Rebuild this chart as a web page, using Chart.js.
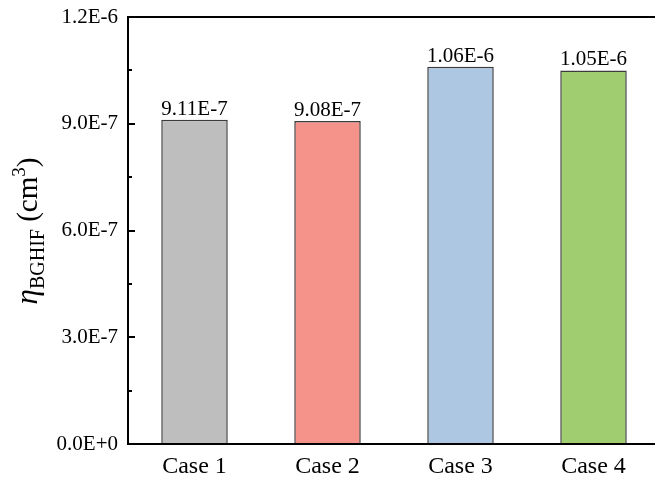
<!DOCTYPE html>
<html>
<head>
<meta charset="utf-8">
<script src="https://cdn.jsdelivr.net/npm/chart.js@4/dist/chart.umd.min.js"></script>
<style>
  html, body { margin: 0; padding: 0; background: #fff; overflow: hidden; }
  #wrap { width: 662px; height: 481px; position: relative; }
</style>
</head>
<body>
<div id="wrap"><canvas id="barChart"></canvas></div>
<script>
const categories = ['Case 1', 'Case 2', 'Case 3', 'Case 4'];
const etaValues = [9.11e-7, 9.08e-7, 1.06e-6, 1.05e-6];
const valueLabels = ['9.11E-7', '9.08E-7', '1.06E-6', '1.05E-6'];
const yTicks = [0, 3e-7, 6e-7, 9e-7, 1.2e-6];
const barColors = ['#bebebe', '#f5928a', '#adc6e2', '#a0cd6f'];

const serif = '"Liberation Serif", "Times New Roman", serif';

function fmtSci(v) {
    return v.toExponential(1).toUpperCase();
}

// frame, inward ticks, value labels and the y title
const decorPlugin = {
    id: 'decor',
    afterDatasetsDraw(chart) {
        const ctx = chart.ctx;
        const area = chart.chartArea;
        const y = chart.scales.y;

        ctx.save();
        // value labels above bars
        ctx.fillStyle = '#000';
        ctx.font = '21px ' + serif;
        ctx.textAlign = 'center';
        ctx.textBaseline = 'alphabetic';
        chart.getDatasetMeta(0).data.forEach((bar, i) => {
            ctx.fillText(valueLabels[i], bar.x, bar.y - 5);
        });

        // inward ticks on the y axis
        ctx.strokeStyle = '#000';
        ctx.lineWidth = 2;
        for (let i = 0; i < yTicks.length; i++) {
            const py = Math.round(y.getPixelForValue(yTicks[i]));
            ctx.beginPath();
            ctx.moveTo(area.left, py);
            ctx.lineTo(area.left + 7, py);
            ctx.stroke();
            if (i < yTicks.length - 1) {
                const my = Math.round(y.getPixelForValue((yTicks[i] + yTicks[i + 1]) / 2));
                ctx.beginPath();
                ctx.moveTo(area.left, my);
                ctx.lineTo(area.left + 4, my);
                ctx.stroke();
            }
        }

        // frame
        ctx.strokeRect(area.left, area.top, area.right - area.left, area.bottom - area.top);

        // y title: eta_BGHIF (cm^3)
        ctx.translate(27, 231);
        ctx.rotate(-Math.PI / 2);
        ctx.textAlign = 'left';
        const parts = [
            { t: 'η', f: 'italic 31px ' + serif, dy: 0 },
            { t: 'BGHIF', f: '20px ' + serif, dy: 7 },
            { t: ' (cm', f: '29px ' + serif, dy: 0 },
            { t: '3', f: '19px ' + serif, dy: -12 },
            { t: ')', f: '29px ' + serif, dy: 0 }
        ];
        let total = 0;
        parts.forEach(p => { ctx.font = p.f; p.w = ctx.measureText(p.t).width; total += p.w; });
        let x = -total / 2;
        parts.forEach(p => {
            ctx.font = p.f;
            ctx.fillText(p.t, x, 10 + p.dy);
            x += p.w;
        });
        ctx.restore();
    }
};

new Chart(document.getElementById('barChart'), {
    type: 'bar',
    data: {
        labels: categories,
        datasets: [{
            data: etaValues,
            backgroundColor: barColors,
            borderColor: '#3c3c3c',
            borderWidth: 1.5,
            barPercentage: 0.5,
            categoryPercentage: 1.0
        }]
    },
    options: {
        responsive: true,
        maintainAspectRatio: false,
        animation: false,
        layout: { padding: { top: 17, right: 2, left: 0, bottom: 0 } },
        plugins: { legend: { display: false }, tooltip: { enabled: false } },
        scales: {
            x: {
                grid: { display: false, drawTicks: false },
                border: { display: false },
                ticks: { color: '#000', font: { family: serif, size: 24 }, padding: 8 },
                afterFit(scale) { scale.height = 37; }
            },
            y: {
                min: 0,
                max: 1.2e-6,
                grid: { display: false, drawTicks: false },
                border: { display: false },
                afterBuildTicks(scale) { scale.ticks = yTicks.map(v => ({ value: v })); },
                ticks: {
                    color: '#000',
                    font: { family: serif, size: 21 },
                    padding: 10,
                    callback: v => fmtSci(v)
                },
                afterFit(scale) {
                    scale.width = 128;
                    scale.paddingTop = 0;
                    scale.paddingBottom = 0;
                }
            }
        }
    },
    plugins: [decorPlugin]
});
</script>
</body>
</html>
